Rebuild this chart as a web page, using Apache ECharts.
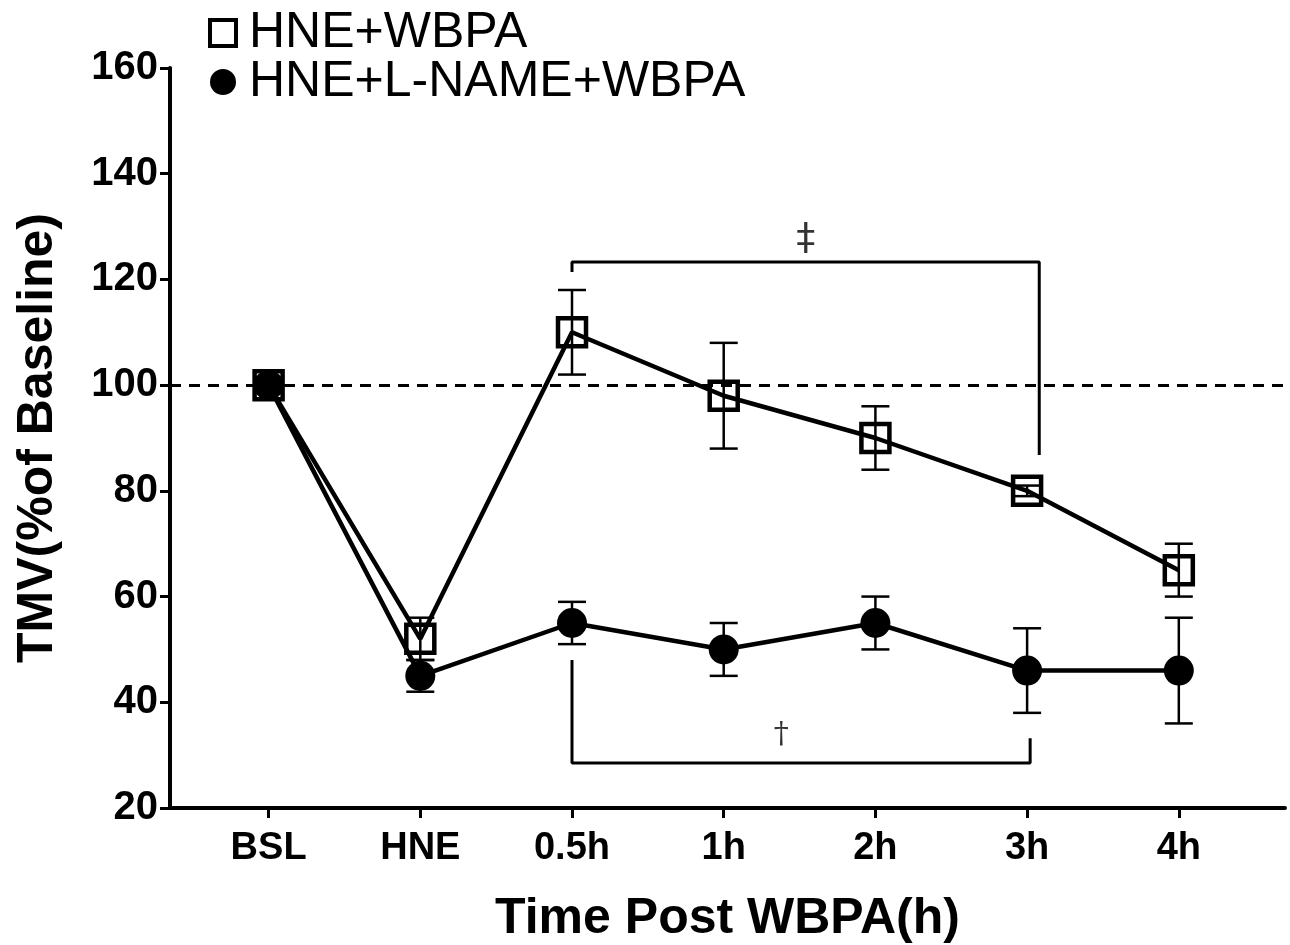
<!DOCTYPE html>
<html>
<head>
<meta charset="utf-8">
<script src="https://cdn.jsdelivr.net/npm/echarts@6/dist/echarts.min.js"></script>
<style>
  html, body { margin: 0; padding: 0; background: #fff; }
  #main { width: 1290px; height: 945px; }
</style>
</head>
<body>
<div id="main"></div>
<script>
// categories on the x axis
const categories = ['BSL', 'HNE', '0.5h', '1h', '2h', '3h', '4h']
const yTicks = [20, 40, 60, 80, 100, 120, 140, 160]

// HNE+WBPA (open squares)
const wbpaMean = [100, 52, 110, 98, 90, 80, 65]
const wbpaErr = [0, 4, 8, 10, 6, 1, 5]

// HNE+L-NAME+WBPA (filled circles)
const lnameMean = [100, 45, 55, 50, 55, 46, 46]
const lnameErr = [0, 3, 4, 5, 5, 8, 10]

// significance brackets, in axis units
const topBracket = [[2, 121.4], [2, 123.3], [5.08, 123.3], [5.08, 86.8]]
const bottomBracket = [[2, 48], [2, 28.5], [5.02, 28.5], [5.02, 33.2]]
const marks = [[3.54, 127.6, '‡', 38], [3.38, 33.8, '†', 30]]

const font = '"Liberation Sans", Arial, sans-serif'
const xy = arr => arr.map((v, i) => [i, v])
const errData = (mean, err) => mean.map((v, i) => [i, v - err[i], v + err[i]])

function renderErr(params, api) {
  const x = api.value(0)
  const lo = api.coord([x, api.value(1)])
  const hi = api.coord([x, api.value(2)])
  if (api.value(2) - api.value(1) < 0.01) return
  const half = 14
  const style = { stroke: '#000', lineWidth: 2.5 }
  return {
    type: 'group',
    children: [
      { type: 'line', shape: { x1: lo[0], y1: lo[1], x2: hi[0], y2: hi[1] }, style },
      { type: 'line', shape: { x1: lo[0] - half, y1: lo[1], x2: lo[0] + half, y2: lo[1] }, style },
      { type: 'line', shape: { x1: hi[0] - half, y1: hi[1], x2: hi[0] + half, y2: hi[1] }, style }
    ]
  }
}

const chart = echarts.init(document.getElementById('main'))
chart.setOption({
  backgroundColor: '#fff',
  animation: false,
  legend: {
    orient: 'vertical',
    left: 203,
    top: 3,
    itemGap: -1,
    itemWidth: 26,
    itemHeight: 26,
    textStyle: { fontFamily: font, fontSize: 50, color: '#000', lineHeight: 44, padding: [0, 0, 0, 8] },
    data: [
      { name: 'HNE+WBPA', icon: 'rect', itemStyle: { color: 'transparent', borderColor: '#000', borderWidth: 4 } },
      { name: 'HNE+L-NAME+WBPA', icon: 'circle', itemStyle: { color: '#000' } }
    ]
  },
  grid: { left: 170, right: 5, top: 68, bottom: 137, outerBoundsMode: 'none', containLabel: false },
  xAxis: {
    type: 'value',
    min: -0.65,
    max: 6.7,
    name: 'Time Post WBPA(h)',
    nameLocation: 'middle',
    nameGap: 86,
    nameTextStyle: { fontFamily: font, fontSize: 50, fontWeight: 'bold', color: '#000' },
    splitLine: { show: false },
    axisLine: { onZero: false, lineStyle: { color: '#000', width: 4 } },
    axisTick: { show: true, length: 10, lineStyle: { color: '#000', width: 3 }, customValues: categories.map((c, i) => i) },
    axisLabel: {
      customValues: categories.map((c, i) => i),
      formatter: v => categories[Math.round(v)],
      margin: 22,
      fontFamily: font, fontSize: 38, fontWeight: 'bold', color: '#000'
    }
  },
  yAxis: {
    type: 'value',
    min: 20,
    max: 160,
    interval: 20,
    name: 'TMV(%of Baseline)',
    nameLocation: 'middle',
    nameGap: 107,
    nameTextStyle: { fontFamily: font, fontSize: 50, fontWeight: 'bold', color: '#000' },
    splitLine: { show: false },
    axisLine: { show: true, onZero: false, lineStyle: { color: '#000', width: 4 } },
    axisTick: { show: true, length: 10, lineStyle: { color: '#000', width: 3 } },
    axisLabel: {
      margin: 12,
      fontFamily: font, fontSize: 40, fontWeight: 'bold', color: '#000',
      formatter: v => (yTicks.includes(v) ? String(v) : '')
    }
  },
  series: [
    {
      name: 'wbpaErr', type: 'custom', renderItem: renderErr, silent: true, z: 1,
      data: errData(wbpaMean, wbpaErr)
    },
    {
      name: 'lnameErr', type: 'custom', renderItem: renderErr, silent: true, z: 1,
      data: errData(lnameMean, lnameErr)
    },
    {
      name: 'HNE+WBPA',
      type: 'line',
      data: xy(wbpaMean),
      symbol: 'rect',
      symbolSize: 28,
      showAllSymbol: true,
      z: 3,
      lineStyle: { color: '#000', width: 4.5 },
      itemStyle: { color: 'transparent', borderColor: '#000', borderWidth: 4.5 },
      markLine: {
        silent: true,
        symbol: 'none',
        label: { show: false },
        lineStyle: { color: '#000', width: 3, type: [11, 8] },
        data: [{ yAxis: 100 }]
      }
    },
    {
      name: 'HNE+L-NAME+WBPA',
      type: 'line',
      data: xy(lnameMean),
      symbol: 'circle',
      symbolSize: 30,
      showAllSymbol: true,
      z: 2,
      lineStyle: { color: '#000', width: 4.5 },
      itemStyle: { color: '#000' }
    },
    {
      type: 'line', data: topBracket, symbol: 'none', silent: true, z: 1,
      lineStyle: { color: '#000', width: 3 }
    },
    {
      type: 'line', data: bottomBracket, symbol: 'none', silent: true, z: 1,
      lineStyle: { color: '#000', width: 3 }
    },
    {
      type: 'scatter', symbolSize: 1, silent: true, z: 4,
      itemStyle: { color: 'transparent' },
      data: marks,
      label: {
        show: true,
        position: 'inside',
        formatter: p => '{s' + p.value[3] + '|' + p.value[2] + '}',
        color: '#000',
        rich: {
          s38: { fontFamily: '"DejaVu Sans", sans-serif', fontSize: 38, color: '#000' },
          s30: { fontFamily: '"DejaVu Serif", serif', fontSize: 30, color: '#000' }
        }
      }
    }
  ]
})
</script>
</body>
</html>
